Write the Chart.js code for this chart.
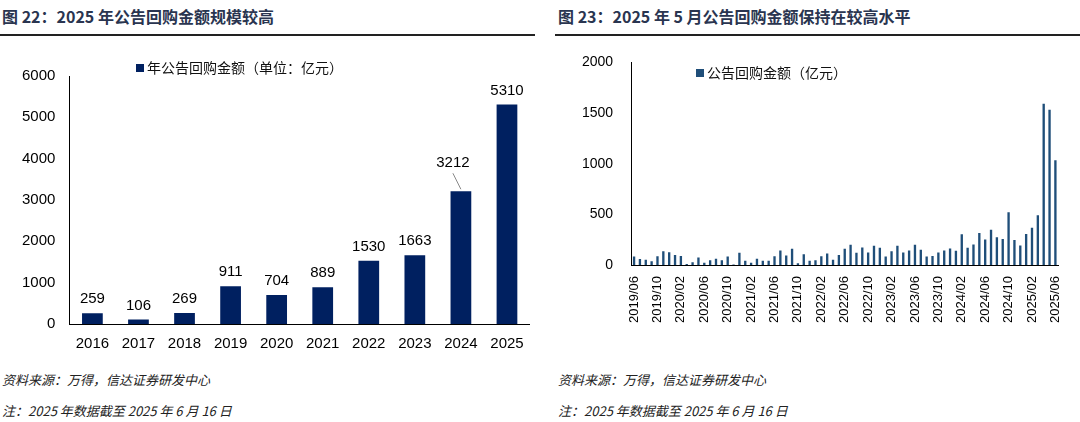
<!DOCTYPE html>
<html><head><meta charset="utf-8">
<script src="https://cdn.jsdelivr.net/npm/chart.js@4"></script>
<style>
body{margin:0;width:1080px;height:422px;background:#fff;font-family:"Noto Sans CJK SC",sans-serif;position:relative;overflow:hidden}
.t{position:absolute;top:4px;font-weight:bold;font-size:16px;color:#2a3550}
.ln{position:absolute;top:34px;height:2px;background:#222}
.f{position:absolute;font-style:italic;font-size:13px;color:#222}
.c{position:absolute}
.lg{position:absolute;font-size:14px;color:#111}
.lg i{display:inline-block;width:8px;height:8px;margin-right:3px;vertical-align:1px}
</style></head><body>
<div class="t" style="left:2px">图 22：2025 年公告回购金额规模较高</div>
<div class="t" style="left:558px">图 23：2025 年 5 月公告回购金额保持在较高水平</div>
<div class="ln" style="left:0;width:535px"></div>
<div class="ln" style="left:555px;width:525px"></div>
<div class="c" style="left:0;top:53px;width:530px;height:303px"><canvas id="a"></canvas></div>
<div class="c" style="left:560px;top:44px;width:514px;height:282px"><canvas id="b"></canvas></div>
<div class="lg" style="left:136px;top:57px"><i style="background:#002060"></i>年公告回购金额（单位：亿元）</div>
<div class="lg" style="left:696px;top:62px"><i style="background:#1F4E79"></i>公告回购金额（亿元）</div>
<div class="f" style="left:2px;top:370px">资料来源：万得，信达证券研发中心</div>
<div class="f" style="left:2px;top:401px">注：2025 年数据截至 2025 年 6 月 16 日</div>
<div class="f" style="left:558px;top:370px">资料来源：万得，信达证券研发中心</div>
<div class="f" style="left:558px;top:401px">注：2025 年数据截至 2025 年 6 月 16 日</div>
<script>
const years=["2016","2017","2018","2019","2020","2021","2022","2023","2024","2025"];
const yearVals=[259,106,269,911,704,889,1530,1663,3212,5310];
const months=[];
for(let y=2019,m=6;!(y===2025&&m===7);){months.push(y+"/"+String(m).padStart(2,"0"));m++;if(m>12){m=1;y++;}}
const monthVals=[83,60,53,37,87,137,127,100,90,10,27,73,23,47,63,47,83,5,120,43,23,63,43,43,87,143,93,160,17,107,43,47,87,113,53,100,160,200,120,173,123,190,170,83,137,190,123,143,200,150,83,90,123,143,163,140,303,170,203,317,253,347,273,257,520,247,193,307,367,490,1593,1533,1033];
Chart.defaults.font.family='Arial, "Liberation Sans", "Noto Sans CJK SC"';
Chart.defaults.color='#000';
Chart.defaults.animation=false;
const lbl={id:'lbl',afterDatasetsDraw(c){const ctx=c.ctx;const m=c.getDatasetMeta(0);ctx.save();ctx.font='15px Arial';ctx.textAlign='center';ctx.fillStyle='#000';
m.data.forEach((b,i)=>{let v=yearVals[i];let x=b.x,y=b.y-10;
if(i===8){ctx.strokeStyle='#888';ctx.beginPath();ctx.moveTo(x,b.y-2);ctx.lineTo(x-8,b.y-18);ctx.stroke();x-=8;y=b.y-24;}
ctx.fillText(v,x,y);});ctx.restore();}};
new Chart(document.getElementById('a'),{type:'bar',data:{labels:years,datasets:[{data:yearVals,backgroundColor:'#002060',barPercentage:0.45,categoryPercentage:1}]},
options:{responsive:true,maintainAspectRatio:false,layout:{padding:{left:8,top:6}},
plugins:{legend:{display:false},tooltip:{enabled:false}},
scales:{x:{grid:{display:false},border:{color:'#000'},ticks:{font:{size:15}}},
y:{min:0,max:6000,ticks:{stepSize:1000,font:{size:15},padding:14,callback:v=>String(v)},grid:{display:false,drawTicks:false},border:{color:'#000'}}}},plugins:[lbl]});
new Chart(document.getElementById('b'),{type:'bar',data:{labels:months,datasets:[{data:monthVals,backgroundColor:'#1F4E79',barPercentage:0.4,categoryPercentage:1}]},
options:{responsive:true,maintainAspectRatio:false,layout:{padding:{left:12,top:4}},
plugins:{legend:{display:false},tooltip:{enabled:false}},
scales:{x:{grid:{display:false},border:{color:'#000'},ticks:{autoSkip:false,minRotation:90,maxRotation:90,font:{size:13},callback:(v,i)=>i%4===0?months[i]:''}},
y:{min:0,max:2000,ticks:{stepSize:500,font:{size:14},padding:10,callback:v=>String(v)},grid:{display:false},border:{color:'#000'}}}}});
</script></body></html>
